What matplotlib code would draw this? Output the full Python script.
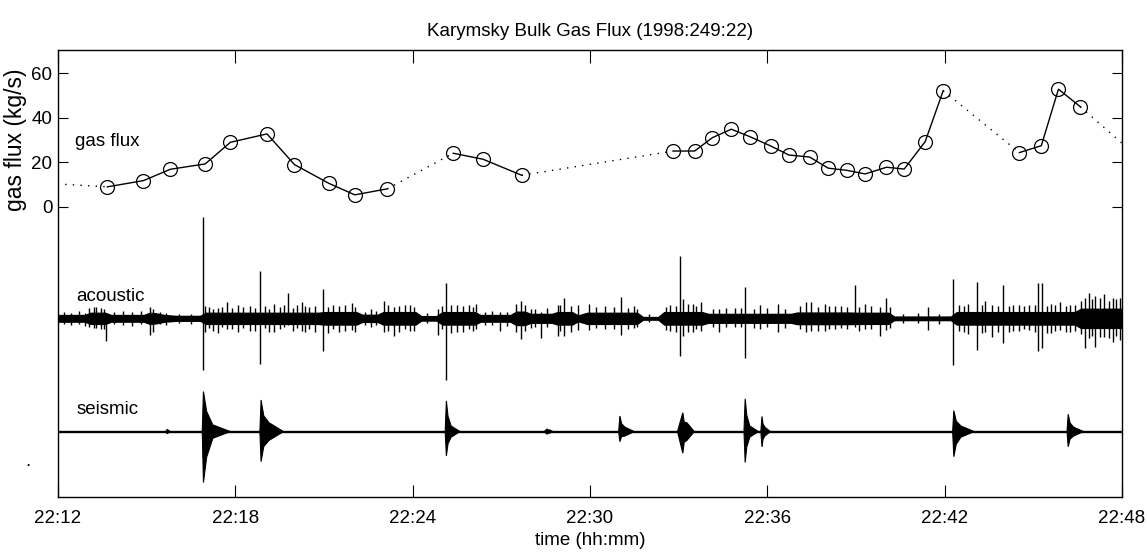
import matplotlib
matplotlib.use("Agg")
import matplotlib.pyplot as plt
from matplotlib import font_manager

# the reference text is a narrow Helvetica; use a narrow face if there is one
try:
    font_manager.findfont('Liberation Sans Narrow', fallback_to_default=False)
    plt.rcParams['font.family'] = ['Liberation Sans Narrow', 'DejaVu Sans']
    FS = 16
except ValueError:
    plt.rcParams['font.family'] = ['Liberation Sans', 'DejaVu Sans']
    FS = 13.5

# gas flux samples, minutes after 22:12, kg/s; seg = continuous run id
flux_t = [1.67, 2.89, 3.80, 4.98, 5.83, 7.07, 8.00, 9.16, 10.04, 11.14,
          13.37, 14.38, 15.69,
          20.82, 21.54, 22.14, 22.78, 23.40, 24.11, 24.73, 25.43, 26.06, 26.70,
          27.31, 28.03, 28.63, 29.34, 29.95,
          32.53, 33.27, 33.85, 34.59]
flux_v = [8.9, 11.7, 16.8, 19.2, 28.9, 32.7, 18.9, 10.5, 5.3, 8.0,
          24.0, 21.3, 14.1,
          25.0, 25.0, 31.0, 34.8, 31.5, 27.3, 23.2, 22.3, 17.3, 16.3,
          14.7, 17.7, 16.9, 29.2, 52.1,
          24.3, 27.4, 52.8, 44.9]
flux_seg = [0] * 10 + [1] * 3 + [2] * 15 + [3] * 4
# gap values at the left and right edges of the window
edge_t = [0.24, 36.0]
edge_v = [10.0, 28.5]

# acoustic trace: noise core (minute, half width) and spikes (up / down)
acou_base = -50.2
band_t = [0.0, 0.9, 1.1, 1.6, 1.8, 2.9, 3.1, 3.3, 3.6, 4.0, 4.8, 5.0, 8.8,
          9.0, 10.1, 10.3, 10.8, 11.0, 12.1, 12.3, 12.8, 13.0, 14.1, 14.3,
          15.3, 15.5, 15.8, 16.0, 16.7, 16.9, 17.4, 17.6, 17.9, 19.6, 19.8,
          20.3, 20.5, 21.8, 22.0, 24.8, 25.0, 26.8, 27.0, 28.1, 28.3, 30.2,
          30.4, 34.4, 34.6, 36.0]
band_amp = [1.8, 1.8, 2.8, 2.8, 1.8, 1.8, 2.8, 2.6, 1.8, 1.4, 1.4, 2.8, 2.8,
            3.1, 3.1, 1.9, 1.9, 3.1, 3.1, 1.3, 1.3, 3.1, 3.1, 1.8,
            1.8, 3.3, 3.3, 2.3, 2.3, 3.1, 3.1, 1.6, 2.8, 2.8, 0.9,
            0.9, 3.1, 3.1, 2.3, 2.3, 2.9, 2.9, 2.8, 2.8, 1.1, 1.1,
            3.1, 3.1, 4.6, 4.6]
spike_t = [1.62, 4.90, 6.85, 7.77, 8.97, 13.13, 21.03, 23.23, 19.05, 17.12,
           15.66, 16.34, 16.90, 26.98, 30.29, 31.10, 31.99, 33.17, 33.29, 34.76,
           1.2, 1.45, 3.1, 3.2, 4.97, 5.40, 5.72, 6.1, 6.5, 7.3, 8.26, 8.37,
           9.15, 9.95, 10.6, 11.03, 11.37, 11.9, 12.84, 13.5, 14.14, 14.95,
           16.0, 17.58, 17.98, 18.5, 19.5, 20.58, 21.14, 21.48, 21.76, 22.38,
           22.9, 23.74, 24.36, 25.32, 25.49, 25.94, 26.1, 26.5, 27.3, 27.8,
           28.03, 29.45, 30.8, 31.37, 31.6, 32.16, 32.5, 32.84, 33.6, 33.91,
           34.25, 34.9, 35.1, 35.4, 35.7, 35.94,
           0.2, 0.45, 0.7, 0.9, 1.05, 1.3, 1.55, 1.9, 2.2, 2.5, 2.8, 3.45, 3.65,
           4.1, 4.5, 5.1, 5.25, 5.55, 5.9, 6.25, 6.65, 7.0, 7.15, 7.5, 7.65,
           7.95, 8.1, 8.5, 8.7, 9.3, 9.5, 9.7, 10.05, 10.4, 10.75, 11.15, 11.55,
           11.75, 12.05, 12.5, 13.0, 13.3, 13.7, 13.9, 14.05, 14.45, 14.7, 15.2,
           15.5, 15.8, 16.15, 16.55, 17.0, 17.35, 18.2, 18.8, 19.3, 19.6, 20.0,
           20.7, 20.9, 21.3, 21.6, 22.15, 22.6, 23.1, 23.55, 24.0, 24.6, 25.1,
           25.7, 26.3, 26.7, 27.1, 27.5, 28.15, 28.6, 29.1, 29.8, 30.5, 30.65,
           31.25, 31.8, 32.3, 32.7, 33.05, 33.45, 33.75, 34.1, 34.4, 34.6, 35.0,
           35.25, 35.55, 35.8]
spike_up = [2.0, 45.7, 21.4, 11.2, 13.1, 16.0, 28.0, 14.0, 9.8, 9.0,
            7.7, 3.0, 6.0, 15.0, 17.5, 16.4, 15.0, 15.7, 15.7, 9.0,
            5.0, 4.5, 5.0, 4.0, 5.5, 4.5, 7.5, 6.0, 5.5, 6.5, 7.5, 5.5,
            5.0, 7.0, 4.0, 7.7, 5.0, 6.0, 4.0, 6.0, 6.4, 3.0,
            4.0, 6.0, 6.5, 5.5, 5.5, 5.2, 8.5, 6.5, 7.5, 4.0,
            4.5, 6.0, 6.5, 7.5, 7.5, 6.5, 5.5, 5.5, 6.5, 5.0,
            9.0, 5.0, 6.5, 8.0, 6.0, 5.5, 6.0, 6.0, 6.5, 7.5,
            6.0, 11.2, 10.0, 11.0, 9.0, 9.0,
            3.0, 2.5, 3.5, 2.5, 4.5, 5.0, 4.0, 3.0, 3.5, 3.0, 3.5, 3.0, 2.5,
            2.0, 2.0, 5.0, 4.0, 5.0, 4.5, 5.0, 4.5, 5.5, 4.0, 5.0, 6.0,
            4.5, 6.0, 5.0, 5.5, 6.0, 5.5, 6.0, 5.0, 3.0, 3.5, 6.0, 5.5,
            6.0, 5.0, 2.5, 5.5, 6.0, 5.5, 6.0, 5.0, 3.0, 3.5, 3.0,
            6.5, 6.0, 4.0, 4.5, 6.0, 5.5, 5.0, 5.0, 4.5, 4.0, 1.8,
            6.0, 5.5, 6.5, 5.5, 4.0, 4.5, 4.5, 4.0, 4.5, 4.0, 5.5,
            5.0, 5.5, 5.0, 5.0, 5.5, 5.0, 2.0, 2.5, 2.0, 6.0, 5.5,
            6.0, 5.5, 6.0, 5.5, 6.0, 5.5, 6.0, 5.5, 6.0, 8.0, 8.5,
            9.0, 8.0, 8.5]
spike_dn = [10.4, 23.2, 20.5, 3.0, 14.5, 27.7, 16.8, 18.0, 7.5, 8.0,
            9.4, 9.0, 8.0, 4.0, 21.0, 14.2, 11.0, 14.6, 13.5, 13.5,
            4.5, 5.0, 7.5, 6.0, 6.0, 6.6, 5.0, 6.0, 5.5, 6.0, 5.5, 6.0,
            6.7, 5.3, 4.0, 6.0, 8.0, 5.5, 7.5, 6.0, 5.0, 5.5,
            4.5, 5.2, 5.2, 5.0, 4.5, 5.2, 8.0, 6.0, 5.5, 6.0,
            4.0, 5.0, 6.0, 6.0, 5.5, 5.5, 5.0, 4.5, 5.0, 8.0,
            5.2, 5.2, 7.0, 6.0, 8.5, 6.0, 5.5, 5.2, 6.5, 5.2,
            6.0, 9.0, 12.7, 8.5, 10.5, 9.8,
            2.5, 3.0, 2.5, 3.5, 4.0, 4.5, 5.0, 2.5, 3.0, 3.5, 2.5, 2.5, 3.0,
            2.0, 2.5, 4.5, 5.5, 4.0, 5.0, 4.5, 5.5, 4.5, 6.0, 5.0, 4.0,
            5.5, 4.5, 5.0, 6.0, 5.0, 6.0, 5.5, 6.0, 3.0, 3.0, 5.5, 6.0,
            5.0, 5.5, 2.0, 5.0, 6.5, 6.0, 5.0, 5.5, 3.0, 3.0, 3.5,
            6.0, 5.5, 4.0, 4.0, 5.5, 6.0, 4.5, 5.0, 5.0, 4.0, 1.8,
            5.5, 6.0, 6.0, 5.0, 4.0, 4.0, 4.0, 4.5, 4.0, 4.5, 5.0,
            5.5, 5.0, 5.0, 5.5, 5.0, 4.5, 2.0, 2.0, 2.5, 5.5, 6.0,
            6.5, 6.0, 5.5, 5.0, 6.0, 6.5, 5.5, 6.0, 5.5, 7.0, 8.0,
            8.5, 9.0, 8.0]

# seismic trace: events (onset, peak, end) with amplitudes
seis_base = -101.1
seis_onset = [3.64, 4.88, 6.83, 13.10, 16.45, 18.97, 20.96, 23.21, 23.78, 30.27, 34.14]
seis_peak = [3.70, 4.92, 6.87, 13.14, 16.55, 19.01, 21.14, 23.25, 23.82, 30.31, 34.18]
seis_end = [3.80, 5.83, 7.63, 13.60, 16.75, 19.50, 21.53, 23.70, 24.10, 31.00, 34.70]
seis_up = [1.0, 18.0, 14.2, 13.8, 1.2, 7.0, 8.5, 14.7, 6.8, 9.4, 7.8]
seis_dn = [1.0, 22.9, 13.5, 10.9, 1.2, 4.5, 9.7, 13.9, 6.9, 11.3, 6.8]
seis_coda = [0.6, 3.0, 4.0, 2.5, 0.8, 2.0, 4.0, 2.5, 2.0, 2.5, 2.0]

tick_min = [0, 6, 12, 18, 24, 30, 36]
tick_lab = ['22:12', '22:18', '22:24', '22:30', '22:36', '22:42', '22:48']

fig = plt.figure(figsize=(11.47, 5.55), dpi=100)
ax = fig.add_axes([0.0506, 0.1045, 0.9276, 0.8054])

dots = (0, (1, 4.5))
# gas flux: solid inside a run, dotted across gaps
for s in sorted(set(flux_seg)):
    tt = [t for t, g in zip(flux_t, flux_seg) if g == s]
    vv = [v for v, g in zip(flux_v, flux_seg) if g == s]
    ax.plot(tt, vv, color='black', lw=1.0, marker='o', ms=10,
            mfc='none', mec='black', mew=0.9)
for i in range(1, len(flux_t)):
    if flux_seg[i] != flux_seg[i - 1]:
        ax.plot([flux_t[i - 1], flux_t[i]], [flux_v[i - 1], flux_v[i]],
                color='black', lw=1.0, ls=dots)
ax.plot([edge_t[0], flux_t[0]], [edge_v[0], flux_v[0]], color='black', lw=1.0, ls=dots)
ax.plot([flux_t[-1], edge_t[1]], [flux_v[-1], edge_v[1]], color='black', lw=1.0, ls=dots)

# acoustic core + spikes
ax.fill_between(band_t, [acou_base - a for a in band_amp], [acou_base + a for a in band_amp],
                color='black', lw=0)
ax.vlines(spike_t, [acou_base - d for d in spike_dn], [acou_base + u for u in spike_up],
          color='black', lw=1.0)

# seismic baseline + event wedges
ax.plot([0, 36], [seis_base, seis_base], color='black', lw=1.7)
for i in range(len(seis_onset)):
    span = seis_end[i] - seis_peak[i]
    p1 = seis_peak[i] + 0.12 * span
    mid = seis_peak[i] + 0.35 * span
    xs = [seis_onset[i], seis_peak[i], p1, mid, seis_end[i], mid, p1, seis_peak[i]]
    ys = [seis_base, seis_base + seis_up[i], seis_base + 0.5 * seis_up[i],
          seis_base + seis_coda[i], seis_base, seis_base - seis_coda[i],
          seis_base - 0.5 * seis_dn[i], seis_base - seis_dn[i]]
    ax.fill(xs, ys, color='black', lw=0.8, ec='black')

ax.text(0.58, 29.5, 'gas flux', fontsize=FS, va='center')
ax.text(0.62, -40.6, 'acoustic', fontsize=FS, va='center')
ax.text(0.62, -91.0, 'seismic', fontsize=FS, va='center')
fig.text(28 / 1147, 1 - 462 / 555, '.', fontsize=FS, ha='center', va='center')

ax.set_xlim(0, 36)
ax.set_ylim(-130.5, 70.4)
ax.set_xticks(tick_min)
ax.set_xticklabels(tick_lab)
ax.set_yticks([0, 20, 40, 60])
ax.tick_params(axis='x', direction='in', length=9, width=0.8, top=True, labelsize=FS, pad=9)
ax.tick_params(axis='y', direction='in', length=7, width=0.8, right=True, labelsize=FS, pad=4)
for sp in ax.spines.values():
    sp.set_linewidth(1.0)
ax.set_title('Karymsky Bulk Gas Flux (1998:249:22)', fontsize=FS, pad=10)
ax.set_xlabel('time (hh:mm)', fontsize=FS, labelpad=4)
ax.set_ylabel('gas flux (kg/s)', fontsize=FS + 3, family=['Liberation Sans', 'DejaVu Sans'])
ax.yaxis.set_label_coords(-0.029, 0.80)

fig.savefig('out.png', dpi=100)
